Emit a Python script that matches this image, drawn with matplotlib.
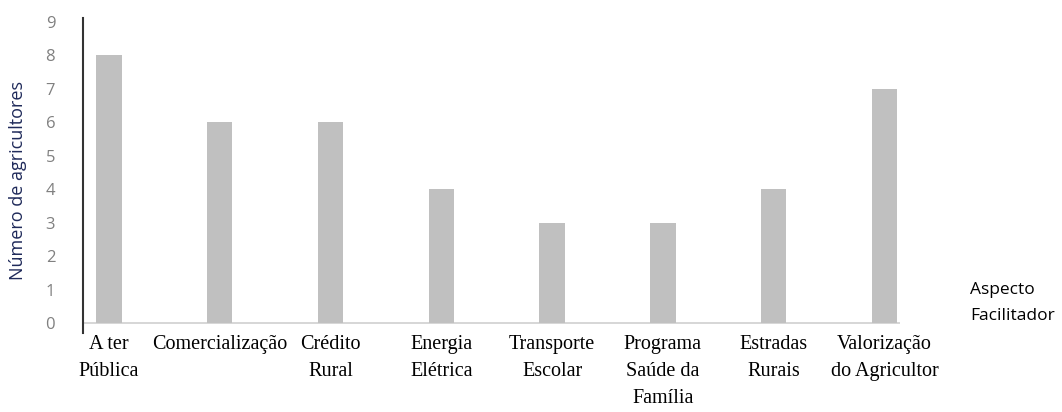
import matplotlib.pyplot as plt

categorias = ["A ter\nPública", "Comercialização", "Crédito\nRural", "Energia\nElétrica",
              "Transporte\nEscolar", "Programa\nSaúde da\nFamília", "Estradas\nRurais",
              "Valorização\ndo Agricultor"]
valores = [8, 6, 6, 4, 3, 3, 4, 7]
yticks = list(range(0, 10))

fig = plt.figure(figsize=(10.62, 4.12), dpi=100)
W, H = 1062, 412
# axes from x=83..900 px, y=18..333 px
ax = fig.add_axes([83 / W, 1 - 333 / H, (900 - 83) / W, (333 - 18) / H])

x = list(range(len(valores)))
ax.bar(x, valores, width=0.23, color="#C0C0C0")
ax.axhline(0, color="#D0D0D0", lw=1.2, zorder=0)

ax.set_xlim(-0.234, 7.14)
ax.set_ylim(-0.3, 9.12)
for s in ["top", "right", "bottom"]:
    ax.spines[s].set_visible(False)
ax.spines["left"].set_color("#333333")
ax.spines["left"].set_linewidth(1.5)

ax.set_xticks([])
ax.set_yticks(yticks)
ax.tick_params(axis="y", length=0, pad=20, labelsize=12, labelcolor="#808080")
for lbl in ax.get_yticklabels():
    lbl.set_family("Open Sans")

fig.text(18 / W, 1 - 180 / H, "Número de agricultores", rotation=90,
         ha="center", va="center", fontsize=13, color="#1F2A5A", family="Open Sans")

for xi, lab in zip(x, categorias):
    ax.annotate(lab, xy=(xi, 0), xycoords="data", xytext=(0, -9),
                textcoords="offset points", ha="center", va="top",
                multialignment="center", fontsize=14.5, family="Liberation Serif",
                linespacing=1.55)

fig.text(970 / W, 1 - 290 / H, "Aspecto", ha="left", va="center",
         fontsize=12.5, family="Open Sans")
fig.text(970 / W, 1 - 316 / H, "Facilitador", ha="left", va="center",
         fontsize=12.5, family="Open Sans")

fig.savefig("out.png", dpi=100)
